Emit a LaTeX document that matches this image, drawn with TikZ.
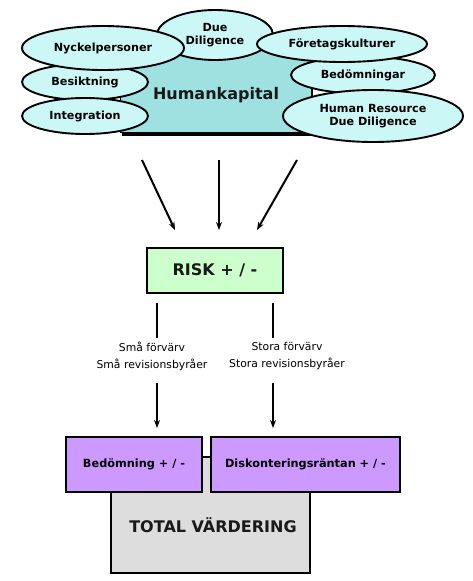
\documentclass[tikz,border=0pt]{standalone}
\usepackage{fontspec}
\setmainfont{DejaVu Sans}
\usepackage{tikz}
\usetikzlibrary{shapes.geometric,arrows.meta,positioning,calc}
\usepackage{xcolor}
\definecolor{skyfill}{HTML}{CCF7F7}
\definecolor{hkfill}{HTML}{9FE0E0}
\definecolor{riskfill}{HTML}{CCFFCC}
\definecolor{lilac}{HTML}{CC99FF}
\definecolor{greybox}{HTML}{DDDDDD}

\tikzset{
  blob/.style={ellipse, draw=black, line width=1.9pt, fill=skyfill, inner sep=0pt,
    font=\bfseries\fontsize{11.2}{13}\selectfont, align=center},
  riskbox/.style={draw=black, line width=2.4pt, fill=riskfill, inner sep=0pt},
  purplebox/.style={draw=black, line width=2.4pt, fill=lilac, inner sep=0pt,
    font=\bfseries\fontsize{11.3}{13}\selectfont},
  totalbox/.style={draw=black, line width=2.4pt, fill=greybox, inner sep=0pt},
  bigtxt/.style={font=\bfseries\fontsize{16}{18}\selectfont, text=black!90},
  smalltxt/.style={font=\fontsize{10.8}{17}\selectfont, align=center},
  arr/.style={line width=2pt, -{Stealth[length=8pt,width=6pt]}},
}

\begin{document}
\begin{tikzpicture}[x=1pt, y=-1pt]
  \useasboundingbox (0,0) rectangle (472,581);
  % humankapital block with its shadow
  \fill[black] (122,47) rectangle (313,135.5);
  \draw[line width=1pt, fill=hkfill] (120,45) rectangle (311,132);
  \node[bigtxt] (hk) at (216,95) {Humankapital};

  % bubbles round it
  \node[blob, minimum width=116, minimum height=50] (due) at (215,35) {Due\\Diligence};
  \node[blob, minimum width=126, minimum height=36] (besikt) at (85,82) {Besiktning};
  \node[blob, minimum width=126, minimum height=36] (integr) at (85,116) {Integration};
  \node[blob, minimum width=162, minimum height=44] (nyckel) at (103,48) {Nyckelpersoner};
  \node[blob, minimum width=144, minimum height=37] (bedom) at (363,75) {Bedömningar};
  \node[blob, minimum width=170, minimum height=36] (foretag) at (342,44) {Företagskulturer};
  \node[blob, minimum width=180, minimum height=52] (hrdd) at (373,116) {Human Resource\\Due Diligence};

  % arrows down to risk
  \coordinate (a1) at (142,160);
  \coordinate (a2) at (219,160);
  \coordinate (a3) at (297,160);
  \coordinate (b1) at (175,230);
  \coordinate (b2) at (219,230);
  \coordinate (b3) at (257,230);
  \draw[arr] (a1) -- (b1);
  \draw[arr] (a2) -- (b2);
  \draw[arr] (a3) -- (b3);

  \node[riskbox, minimum width=136, minimum height=45] (risk) at (215,270.5) {};
  \node[bigtxt] (risktxt) at (215,270) {RISK + / -};

  % two routes
  \node[smalltxt] (sma) at (152,356) {Små förvärv\\Små revisionsbyråer};
  \node[smalltxt] (stora) at (287,356) {Stora förvärv\\Stora revisionsbyråer};
  \coordinate (s1) at (157,303);
  \coordinate (s2) at (157,338);
  \coordinate (s3) at (157,383);
  \coordinate (s4) at (157,428);
  \coordinate (t1) at (273,303);
  \coordinate (t2) at (273,338);
  \coordinate (t3) at (273,383);
  \coordinate (t4) at (273,428);
  \draw[line width=2pt] (s1) -- (s2);
  \draw[line width=2pt] (t1) -- (t2);
  \draw[arr] (s3) -- (s4);
  \draw[arr] (t3) -- (t4);

  % valuation
  \node[totalbox, minimum width=199, minimum height=116] (total) at (210.5,515) {};
  \node[bigtxt] (totaltxt) at (213,525) {TOTAL VÄRDERING};
  \node[purplebox, minimum width=136, minimum height=55] (bedn) at (134,464.5) {Bedömning + / -};
  \node[purplebox, minimum width=189, minimum height=55] (disk) at (305.5,464.5) {Diskonteringsräntan + / -};
\end{tikzpicture}
\end{document}
